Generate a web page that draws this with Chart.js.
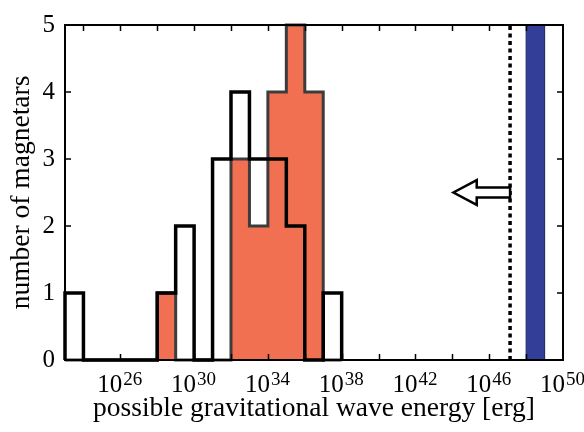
<!DOCTYPE html>
<html><head><meta charset="utf-8">
<script src="https://cdn.jsdelivr.net/npm/chart.js@4"></script>
<style>html,body{margin:0;padding:0;background:#fff}canvas{display:block}</style>
</head><body>
<canvas id="c" width="584" height="432"></canvas>
<script>
// ---- data ----
const binLeftExponents = [23,24,25,26,27,28,29,30,31,32,33,34,35,36,37]; // bins are 1 decade wide
const allMagnetarCounts    = [1,0,0,0,0,1,2,0,3,4,3,3,2,0,1];
const subsetMagnetarCounts = [0,0,0,0,0,1,0,0,0,3,2,4,5,4,0];
const xTickExponents  = [24,26,28,30,32,34,36,38,40,42,44,46,48];
const xLabelExponents = [26,30,34,38,42,46,50];
const yTickValues = [0,1,2,3,4,5];
const upperLimitEnergy = 1.35e47;
const bandEnergyRange = [1e48, 1e49];
const arrowLevel = 2.5;
const arrowTipEnergy = 1.15e44;
const arrowHeadBaseEnergy = 2.1e45;
const xRange = [1e23, 1e50];
const yRange = [0, 5];

const SERIF = "'Liberation Serif', 'Times New Roman', serif";

function stairs(lefts, counts){
  const pts = [{x: Math.pow(10, lefts[0]), y: 0}];
  lefts.forEach((e, i) => {
    pts.push({x: Math.pow(10, e), y: counts[i]});
    pts.push({x: Math.pow(10, e + 1), y: counts[i]});
  });
  pts.push({x: Math.pow(10, lefts[lefts.length - 1] + 1), y: 0});
  return pts;
}

const headHalf = 0.185, shaftHalf = 0.075, capHalf = 0.11;
const arrowPts = [
  {x: upperLimitEnergy, y: arrowLevel + capHalf},
  {x: upperLimitEnergy, y: arrowLevel + shaftHalf},
  {x: arrowHeadBaseEnergy, y: arrowLevel + shaftHalf},
  {x: arrowHeadBaseEnergy, y: arrowLevel + headHalf},
  {x: arrowTipEnergy, y: arrowLevel},
  {x: arrowHeadBaseEnergy, y: arrowLevel - headHalf},
  {x: arrowHeadBaseEnergy, y: arrowLevel - shaftHalf},
  {x: upperLimitEnergy, y: arrowLevel - shaftHalf},
  {x: upperLimitEnergy, y: arrowLevel - capHalf},
  {x: upperLimitEnergy, y: arrowLevel + capHalf}
];

const bandPts = [
  {x: bandEnergyRange[0], y: yRange[0]},
  {x: bandEnergyRange[0], y: yRange[1]},
  {x: bandEnergyRange[1], y: yRange[1]},
  {x: bandEnergyRange[1], y: yRange[0]},
  {x: bandEnergyRange[0], y: yRange[0]}
];

const limitPts = [{x: upperLimitEnergy, y: yRange[0]}, {x: upperLimitEnergy, y: yRange[1]}];

const frame = {
  id: 'frame',
  afterDatasetsDraw(chart){
    const {ctx, chartArea: a, scales: {x, y}} = chart;
    ctx.save();
    ctx.strokeStyle = '#000';
    ctx.lineWidth = 2;
    ctx.strokeRect(a.left, a.top, a.right - a.left, a.bottom - a.top);
    ctx.lineWidth = 1.5;
    ctx.beginPath();
    xTickExponents.forEach(e => {
      const px = Math.round(x.getPixelForValue(Math.pow(10, e))) + 0.5;
      ctx.moveTo(px, a.bottom); ctx.lineTo(px, a.bottom - 6);
      ctx.moveTo(px, a.top); ctx.lineTo(px, a.top + 6);
    });
    yTickValues.forEach(v => {
      const py = y.getPixelForValue(v);
      ctx.moveTo(a.left, py); ctx.lineTo(a.left + 6, py);
      ctx.moveTo(a.right, py); ctx.lineTo(a.right - 6, py);
    });
    ctx.stroke();
    // x tick labels as 10^n
    ctx.fillStyle = '#000';
    ctx.textBaseline = 'alphabetic';
    ctx.textAlign = 'left';
    xLabelExponents.forEach(e => {
      const px = x.getPixelForValue(Math.pow(10, e));
      ctx.font = '25px ' + SERIF;
      const base = '10';
      const wb = ctx.measureText(base).width;
      ctx.font = '19px ' + SERIF;
      const sup = String(e);
      const ws = ctx.measureText(sup).width;
      const start = px - (wb + ws) / 2 - 1;
      ctx.font = '25px ' + SERIF;
      ctx.fillText(base, start, a.bottom + 32);
      ctx.font = '19px ' + SERIF;
      ctx.fillText(sup, start + wb + 1, a.bottom + 24.5);
    });
    ctx.restore();
  }
};

new Chart(document.getElementById('c'), {
  type: 'line',
  data: {
    datasets: [
      { label: 'all', data: stairs(binLeftExponents, allMagnetarCounts),
        borderColor: '#000', borderWidth: 3.5, fill: false, pointRadius: 0,
        borderJoinStyle: 'miter', order: 1, clip: false },
      { label: 'subset', data: stairs(binLeftExponents, subsetMagnetarCounts),
        borderColor: '#3c3c3c', borderWidth: 3, backgroundColor: '#F27052',
        fill: 'origin', pointRadius: 0, borderJoinStyle: 'miter', order: 2, clip: false },
      { label: 'arrow', data: arrowPts, borderColor: '#000', borderWidth: 2.5,
        backgroundColor: '#fff', fill: 'shape', pointRadius: 0, borderJoinStyle: 'miter', order: 0 },
      { label: 'limit', data: limitPts, borderColor: '#000', borderWidth: 3.5,
        borderDash: [4, 3.5], fill: false, pointRadius: 0, order: 3 },
      { label: 'band', data: bandPts, borderColor: '#22306e', borderWidth: 1,
        backgroundColor: '#323e98', fill: 'shape', pointRadius: 0, order: 4 }
    ]
  },
  options: {
    responsive: false,
    animation: false,
    devicePixelRatio: 1,
    layout: { padding: { left: 0, top: 17, right: 21, bottom: 0 } },
    plugins: { legend: { display: false }, tooltip: { enabled: false } },
    scales: {
      x: {
        type: 'logarithmic', min: xRange[0], max: xRange[1],
        afterBuildTicks: s => { s.ticks = xTickExponents.map(e => ({value: Math.pow(10, e)})); },
        afterFit: s => { s.height = 72; },
        ticks: { display: false },
        grid: { display: false, drawTicks: false },
        border: { display: false },
        title: { display: true, text: 'possible gravitational wave energy [erg]',
          color: '#000', font: { family: SERIF, size: 27.5 }, padding: { top: 0, bottom: 7 } }
      },
      y: {
        type: 'linear', min: yRange[0], max: yRange[1],
        afterBuildTicks: s => { s.ticks = yTickValues.map(v => ({value: v})); },
        afterFit: s => { s.width = 65; },
        ticks: { color: '#000', padding: 10, font: { family: SERIF, size: 25 } },
        grid: { display: false, drawTicks: false },
        border: { display: false },
        title: { display: true, text: 'number of magnetars',
          color: '#000', font: { family: SERIF, size: 27.5 }, padding: { top: 5, bottom: 0 } }
      }
    }
  },
  plugins: [frame]
});
</script>
</body></html>
